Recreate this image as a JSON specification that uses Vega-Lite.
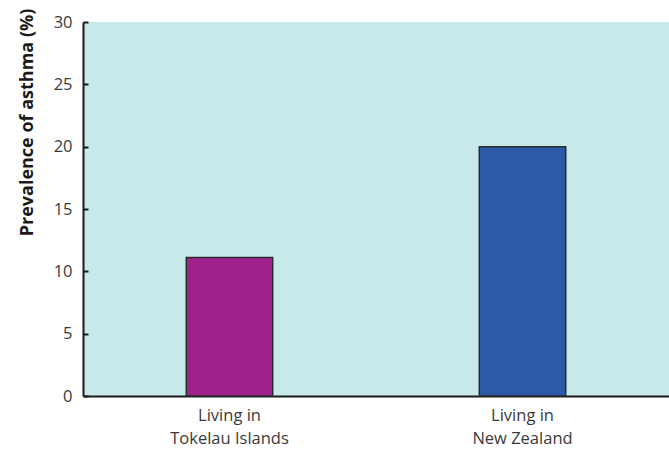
{
  "$schema": "https://vega.github.io/schema/vega-lite/v6.json",
  "autosize": "none",
  "width": 586,
  "height": 374,
  "padding": {"left": 83, "top": 22, "right": 0, "bottom": 56},
  "background": "white",
  "config": {
    "view": {"fill": "#c8e9ea", "stroke": null},
    "font": "Open Sans"
  },
  "data": {
    "values": [
      {"group": "Living in|Tokelau Islands", "prevalence": 11.1, "c": "Tokelau"},
      {"group": "Living in|New Zealand", "prevalence": 20.0, "c": "NZ"}
    ]
  },
  "mark": {"type": "bar", "stroke": "#2b2b2b", "strokeWidth": 1.5, "width": {"band": 0.295}},
  "encoding": {
    "x": {
      "field": "group",
      "type": "nominal",
      "sort": null,
      "scale": {"paddingInner": 0, "paddingOuter": 0},
      "axis": {
        "title": null,
        "labelAngle": 0,
        "ticks": false,
        "domainColor": "#1a1a1a",
        "domainWidth": 2,
        "labelExpr": "split(datum.label, '|')",
        "labelFontSize": 16.5,
        "labelColor": "#3a3a3a",
        "labelPadding": 11,
        "labelLineHeight": 23,
        "labelBaseline": "top"
      }
    },
    "y": {
      "field": "prevalence",
      "type": "quantitative",
      "scale": {"domain": [0, 30], "nice": false},
      "axis": {
        "values": [0, 5, 10, 15, 20, 25, 30],
        "grid": false,
        "domainColor": "#1a1a1a",
        "domainWidth": 2,
        "tickColor": "#1a1a1a",
        "tickWidth": 2,
        "tickSize": -5,
        "labelFontSize": 16.5,
        "labelColor": "#3a3a3a",
        "labelPadding": 16,
        "title": "Prevalence of asthma (%)",
        "titleFontSize": 18,
        "titleFontWeight": "bold",
        "titleColor": "#1a1a1a",
        "titleX": -56,
        "titleY": 100,
        "titleAngle": -90,
        "titleAlign": "center",
        "titleBaseline": "middle"
      }
    },
    "color": {
      "field": "c",
      "type": "nominal",
      "scale": {"domain": ["Tokelau", "NZ"], "range": ["#a0228c", "#2a5aa8"]},
      "legend": null
    }
  }
}
